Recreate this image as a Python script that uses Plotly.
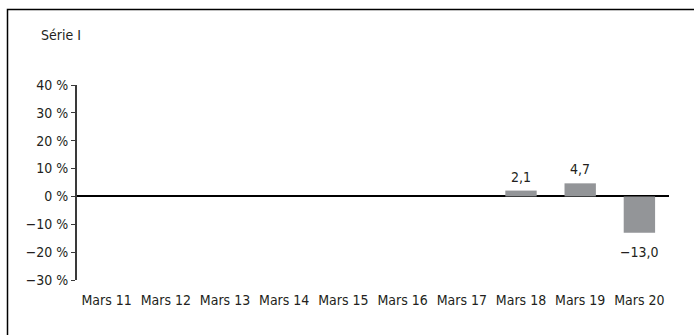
import plotly.graph_objects as go

categories = ["Mars 11", "Mars 12", "Mars 13", "Mars 14", "Mars 15",
              "Mars 16", "Mars 17", "Mars 18", "Mars 19", "Mars 20"]
values = [None, None, None, None, None, None, None, 2.1, 4.7, -13.0]
value_labels = ["", "", "", "", "", "", "", "2,1", "4,7", "\u221213,0"]
tick_vals = [-30, -20, -10, 0, 10, 20, 30, 40]
tick_text = ["\u221230 %", "\u221220 %", "\u221210 %", "0 %", "10 %", "20 %", "30 %", "40 %"]
series_title = "Série I"

FONT = "DejaVu Sans Condensed, sans-serif"
FS = 14
TXT = "#231f20"

fig = go.Figure()
fig.add_trace(go.Bar(
    x=categories, y=values,
    marker=dict(color="#939598", line=dict(width=0)),
    hoverinfo="skip", width=0.53,
))

annotations = []
for c, v, t in zip(categories, values, value_labels):
    if v is None:
        continue
    annotations.append(dict(
        x=c, y=v, xref="x", yref="y", text=t, showarrow=False,
        yanchor="bottom" if v >= 0 else "top",
        yshift=4 if v >= 0 else -9,
        font=dict(family=FONT, size=FS, color=TXT)))

W, H = 694, 335
L, R, T, B = 77, 25, 85, 55
pw, ph = W - L - R, H - T - B

annotations.append(dict(text=series_title, xref="paper", yref="paper",
                        x=(39 - L) / pw, y=(H - B - 35) / ph, xanchor="left", yanchor="middle",
                        showarrow=False, font=dict(family=FONT, size=FS, color=TXT)))

fig.update_layout(
    width=W, height=H,
    margin=dict(l=L, r=R, t=T, b=B, pad=0, autoexpand=False),
    paper_bgcolor="white", plot_bgcolor="white",
    showlegend=False,
    font=dict(family=FONT, size=FS, color=TXT),
    xaxis=dict(showgrid=False, showline=False, ticks="", zeroline=False,
               tickangle=0, automargin=False,
               tickfont=dict(family=FONT, size=FS, color=TXT),
               ticklabelstandoff=10, fixedrange=True),
    yaxis=dict(range=[-30, 40], tickvals=tick_vals, ticktext=tick_text,
               automargin=False,
               showgrid=False, showline=True, linecolor="#3a3a3a", linewidth=2,
               ticks="outside", ticklen=4, tickwidth=1, tickcolor="#3a3a3a",
               zeroline=True, zerolinecolor="#000000", zerolinewidth=2,
               tickfont=dict(family=FONT, size=FS, color=TXT),
               ticklabelstandoff=0, fixedrange=True),
    annotations=annotations,
    shapes=[dict(type="rect", xref="paper", yref="paper",
                 x0=(7.5 - L) / pw, x1=1.2, y0=-0.6, y1=(H - B - 9.5) / ph,
                 line=dict(color="#000000", width=1.5), fillcolor="rgba(0,0,0,0)", layer="below")],
)

fig.write_html("out.html", config={"displayModeBar": False, "staticPlot": True},
               post_script="document.body.style.margin='0';document.body.style.overflow='hidden';")
